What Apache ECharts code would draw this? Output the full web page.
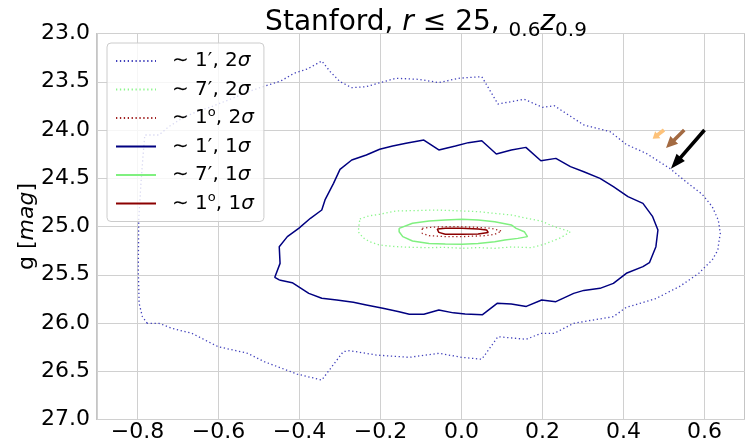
<!DOCTYPE html>
<html>
<head>
<meta charset="utf-8">
<script src="https://cdn.jsdelivr.net/npm/echarts@6/dist/echarts.min.js"></script>
<style>
  html, body { margin: 0; padding: 0; background: #fff; }
  #chart { width: 745px; height: 446px; }
</style>
</head>
<body>
<div id="chart"></div>
<script>
// contour outlines, [colour index g-r, g mag]
const c1arcmin2s = [
  [-0.776, 26.003], [-0.788, 25.934], [-0.796, 25.796], [-0.798, 25.451], [-0.797, 24.933],
  [-0.792, 24.587], [-0.787, 24.300], [-0.782, 24.052], [-0.747, 24.052], [-0.723, 23.966],
  [-0.690, 23.879], [-0.658, 23.817], [-0.617, 23.758], [-0.576, 23.689], [-0.536, 23.620],
  [-0.503, 23.568], [-0.446, 23.492], [-0.414, 23.413], [-0.381, 23.368], [-0.345, 23.285],
  [-0.324, 23.396], [-0.300, 23.499], [-0.271, 23.561], [-0.235, 23.551], [-0.210, 23.520],
  [-0.162, 23.464], [-0.105, 23.475], [-0.056, 23.509], [-0.007, 23.464], [0.050, 23.447],
  [0.090, 23.731], [0.155, 23.682], [0.200, 23.765], [0.229, 23.748], [0.302, 23.948],
  [0.367, 24.017], [0.407, 24.150], [0.456, 24.242], [0.515, 24.400], [0.554, 24.535],
  [0.594, 24.665], [0.619, 24.794], [0.634, 24.933], [0.639, 25.071], [0.635, 25.174],
  [0.633, 25.243], [0.619, 25.347], [0.602, 25.416], [0.586, 25.485], [0.562, 25.554],
  [0.538, 25.623], [0.478, 25.750], [0.407, 25.838], [0.375, 25.934], [0.277, 26.003],
  [0.229, 26.107], [0.196, 26.107], [0.160, 26.169], [0.090, 26.142], [0.050, 26.376],
  [0.001, 26.356], [-0.056, 26.314], [-0.129, 26.356], [-0.210, 26.332], [-0.276, 26.287],
  [-0.292, 26.297], [-0.345, 26.591], [-0.406, 26.529], [-0.487, 26.401], [-0.528, 26.314],
  [-0.601, 26.245], [-0.666, 26.107], [-0.715, 26.055], [-0.747, 26.003], [-0.776, 26.003]
];
const c7arcmin2s = [
  [-0.251, 24.922], [-0.227, 24.888], [-0.202, 24.874], [-0.162, 24.839], [-0.121, 24.836],
  [-0.064, 24.829], [0.001, 24.839], [0.041, 24.846], [0.082, 24.864], [0.123, 24.881],
  [0.155, 24.909], [0.196, 24.943], [0.229, 25.002], [0.269, 25.054], [0.245, 25.116],
  [0.204, 25.185], [0.172, 25.219], [0.123, 25.212], [0.082, 25.226], [0.041, 25.219],
  [0.001, 25.226], [-0.040, 25.216], [-0.080, 25.219], [-0.121, 25.216], [-0.162, 25.209],
  [-0.202, 25.192], [-0.227, 25.157], [-0.243, 25.116], [-0.255, 25.054], [-0.253, 24.985],
  [-0.251, 24.922]
];
const c1deg2s = [
  [-0.097, 25.019], [-0.080, 25.009], [-0.040, 25.002], [0.001, 25.002], [0.041, 25.009],
  [0.074, 25.019], [0.099, 25.047], [0.082, 25.081], [0.058, 25.095], [0.001, 25.105],
  [-0.040, 25.105], [-0.080, 25.095], [-0.097, 25.071], [-0.097, 25.019]
];
const c1arcmin1s = [
  [-0.450, 25.554], [-0.461, 25.527], [-0.448, 25.382], [-0.450, 25.209], [-0.430, 25.105],
  [-0.402, 25.019], [-0.373, 24.915], [-0.345, 24.829], [-0.337, 24.725], [-0.316, 24.553],
  [-0.300, 24.408], [-0.271, 24.311], [-0.235, 24.259], [-0.202, 24.200], [-0.170, 24.166],
  [-0.137, 24.138], [-0.093, 24.104], [-0.056, 24.207], [-0.015, 24.166], [0.017, 24.131],
  [0.050, 24.111], [0.086, 24.249], [0.123, 24.207], [0.159, 24.180], [0.196, 24.318],
  [0.233, 24.294], [0.269, 24.380], [0.302, 24.432], [0.342, 24.501], [0.375, 24.587],
  [0.411, 24.691], [0.448, 24.760], [0.472, 24.898], [0.485, 25.036], [0.480, 25.209],
  [0.464, 25.375], [0.448, 25.416], [0.407, 25.485], [0.375, 25.589], [0.342, 25.641],
  [0.302, 25.662], [0.277, 25.693], [0.233, 25.779], [0.198, 25.762], [0.160, 25.828],
  [0.123, 25.803], [0.088, 25.796], [0.052, 25.914], [0.009, 25.907], [-0.020, 25.895],
  [-0.056, 25.865], [-0.093, 25.909], [-0.129, 25.909], [-0.154, 25.883], [-0.194, 25.848],
  [-0.235, 25.813], [-0.267, 25.786], [-0.308, 25.762], [-0.345, 25.744], [-0.377, 25.693],
  [-0.418, 25.582], [-0.450, 25.554]
];
const c7arcmin1s = [
  [-0.154, 25.019], [-0.121, 24.967], [-0.080, 24.943], [-0.040, 24.933], [0.001, 24.926],
  [0.041, 24.933], [0.082, 24.950], [0.123, 24.984], [0.135, 25.019], [0.155, 25.054],
  [0.163, 25.105], [0.139, 25.123], [0.107, 25.140], [0.082, 25.157], [0.041, 25.175],
  [0.001, 25.185], [-0.040, 25.181], [-0.080, 25.175], [-0.121, 25.150], [-0.145, 25.105],
  [-0.154, 25.054], [-0.154, 25.019]
];
const c1deg1s = [
  [-0.060, 25.026], [-0.040, 25.019], [0.001, 25.019], [0.041, 25.026], [0.062, 25.036],
  [0.066, 25.061], [0.041, 25.078], [0.001, 25.081], [-0.040, 25.081], [-0.056, 25.061],
  [-0.060, 25.026]
];

// arrows: tail x, tail y, tip x, tip y
const arrowRows = [
  [0.500, 24.0, 0.472, 24.090],
  [0.550, 24.0, 0.505, 24.187],
  [0.600, 24.0, 0.517, 24.401]
];
const arrowColors = ['#fdc27a', '#a36a42', '#000000'];

const seriesNames = ['~1′,2σ', '~7′,2σ', '~1°,2σ', '~1′,1σ', '~7′,1σ', '~1°,1σ'];
const legendRich = {
  '~1′,2σ': '{g| }{t|∼ 1′, 2}{s|σ}',
  '~7′,2σ': '{g| }{t|∼ 7′, 2}{s|σ}',
  '~1°,2σ': '{g| }{t|∼ 1}{o|o}{t|, 2}{s|σ}',
  '~1′,1σ': '{g| }{t|∼ 1′, 1}{s|σ}',
  '~7′,1σ': '{g| }{t|∼ 7′, 1}{s|σ}',
  '~1°,1σ': '{g| }{t|∼ 1}{o|o}{t|, 1}{s|σ}'
};

const FONT = 'DejaVu Sans';
const NAVY = '#000080';
const BLUE_DOT = '#4040bb';
const GREEN = '#80f080';
const GREEN_DOT = '#8cf58c';
const DRED = '#8b0000';
const DRED_DOT = '#a02020';

function contour(name, data, color, dotted) {
  return {
    name: name,
    type: 'line',
    data: data,
    symbol: 'none',
    animation: false,
    itemStyle: { color: color },
    lineStyle: dotted
      ? { color: color, width: 1.3, type: [1.3, 2.6] }
      : { color: color, width: 1.5, type: 'solid' },
    z: 3
  };
}

const myChart = echarts.init(document.getElementById('chart'));
const option = {
  backgroundColor: '#ffffff',
  animation: false,
  title: {
    text: 'Stanford, {i|r} {t|≤ 25,} {s|0.6}{i|z}{s|0.9}',
    left: 421,
    top: 0,
    textAlign: 'center',
    textStyle: {
      fontFamily: FONT, fontSize: 28, fontWeight: 'normal', color: '#000',
      rich: {
        t: { fontFamily: FONT, fontSize: 28, color: '#000', lineHeight: 36, verticalAlign: 'middle' },
        i: { fontFamily: FONT, fontSize: 28, fontStyle: 'italic', color: '#000', lineHeight: 36, verticalAlign: 'middle' },
        s: { fontFamily: FONT, fontSize: 20, color: '#000', lineHeight: 26, verticalAlign: 'bottom' }
      }
    }
  },
  grid: {
    left: 97, top: 33.5, right: -8, bottom: 26.5,
    show: true, borderColor: '#a0a0a0', borderWidth: 1.2, backgroundColor: '#fff'
  },
  legend: {
    data: seriesNames,
    left: 107, top: 43,
    orient: 'vertical',
    itemWidth: 40, itemHeight: 14, itemGap: 4.5,
    padding: [6, 10, 6, 8],
    backgroundColor: 'rgba(255,255,255,0.8)',
    borderColor: '#cccccc', borderWidth: 1, borderRadius: 4,
    itemStyle: { opacity: 0 },
    formatter: function (name) { return legendRich[name]; },
    textStyle: {
      fontFamily: FONT, fontSize: 20, color: '#000', lineHeight: 24,
      rich: {
        g: { width: 11 },
        t: { fontFamily: FONT, fontSize: 20, color: '#000', lineHeight: 24 },
        s: { fontFamily: FONT, fontSize: 20, fontStyle: 'italic', color: '#000', lineHeight: 24 },
        o: { fontFamily: FONT, fontSize: 13, color: '#000', lineHeight: 13, verticalAlign: 'top' }
      }
    }
  },
  xAxis: {
    type: 'value',
    min: -0.9, max: 0.7,
    splitNumber: 8,
    axisLine: { show: false },
    axisTick: { show: false },
    axisLabel: {
      fontFamily: FONT, fontSize: 22, color: '#000', margin: 2,
      showMinLabel: false, showMaxLabel: false,
      formatter: function (v) { return v.toFixed(1).replace('-', '\u2212'); }
    },
    splitLine: { show: true, lineStyle: { color: '#d0d0d0', width: 1 } }
  },
  yAxis: {
    type: 'value',
    min: 23, max: 27, interval: 0.5,
    inverse: true,
    name: 'g [{i|mag}]',
    nameLocation: 'middle',
    nameGap: 59,
    nameMoveOverlap: false,
    nameTextStyle: {
      fontFamily: FONT, fontSize: 22, color: '#000',
      rich: { i: { fontFamily: FONT, fontSize: 22, fontStyle: 'italic', color: '#000' } }
    },
    axisLine: { show: false },
    axisTick: { show: false },
    axisLabel: {
      fontFamily: FONT, fontSize: 22, color: '#000', margin: 7,
      formatter: function (v) { return v.toFixed(1); }
    },
    splitLine: { show: true, lineStyle: { color: '#d0d0d0', width: 1 } }
  },
  series: [
    contour(seriesNames[0], c1arcmin2s, BLUE_DOT, true),
    contour(seriesNames[1], c7arcmin2s, GREEN_DOT, true),
    contour(seriesNames[2], c1deg2s, DRED_DOT, true),
    contour(seriesNames[3], c1arcmin1s, NAVY, false),
    contour(seriesNames[4], c7arcmin1s, GREEN, false),
    contour(seriesNames[5], c1deg1s, DRED, false),
    {
      name: 'arrows',
      type: 'custom',
      data: arrowRows,
      encode: { x: [0, 2], y: [1, 3] },
      z: 5,
      renderItem: function (params, api) {
        const p0 = api.coord([api.value(0), api.value(1)]);
        const p1 = api.coord([api.value(2), api.value(3)]);
        const dx = p1[0] - p0[0], dy = p1[1] - p0[1];
        const len = Math.sqrt(dx * dx + dy * dy);
        const ux = dx / len, uy = dy / len;
        const nx = -uy, ny = ux;
        const w = 3.6;
        const hw = Math.min(11, len * 0.6);
        const hl = Math.min(15, len * 0.45);
        const bx = p1[0] - ux * hl, by = p1[1] - uy * hl;
        const pts = [
          [p0[0] + nx * w / 2, p0[1] + ny * w / 2],
          [bx + nx * w / 2, by + ny * w / 2],
          [bx + nx * hw / 2, by + ny * hw / 2],
          [p1[0], p1[1]],
          [bx - nx * hw / 2, by - ny * hw / 2],
          [bx - nx * w / 2, by - ny * w / 2],
          [p0[0] - nx * w / 2, p0[1] - ny * w / 2]
        ];
        return {
          type: 'polygon',
          shape: { points: pts },
          style: { fill: arrowColors[params.dataIndex], stroke: null }
        };
      }
    }
  ]
};
myChart.setOption(option);
</script>
</body>
</html>
